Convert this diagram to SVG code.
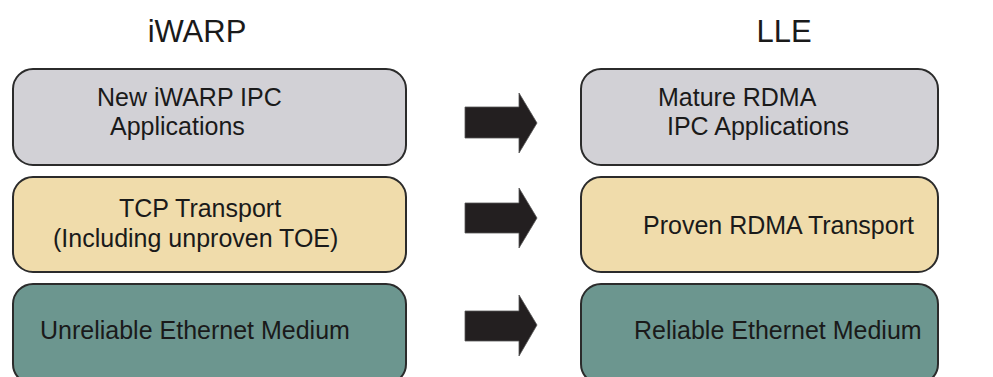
<svg xmlns="http://www.w3.org/2000/svg" width="993" height="377" viewBox="0 0 993 377">
<style>
text{font-family:"Liberation Sans",Arial,sans-serif;fill:#1a1a1a}
.t{font-size:25px}
.h{font-size:31px;text-anchor:middle}
.box{stroke:#2b2b2b;stroke-width:2}
.g{fill:#d2d1d6}
.y{fill:#f0dcab}
.c{fill:#6c968f}
.arr{fill:#231f20;stroke:#555;stroke-width:0.8}
</style>
<rect width="993" height="377" fill="#ffffff"/>
<g id="title-iwarp"><text class="h" x="197" y="42">iWARP</text></g>
<g id="title-lle"><text class="h" x="784" y="42">LLE</text></g>

<g id="iwarp-apps">
<rect class="box g" x="13" y="69" width="393" height="96" rx="20"/>
<text class="t" x="97" y="106">New iWARP IPC</text>
<text class="t" x="110" y="135">Applications</text>
</g>
<g id="iwarp-transport">
<rect class="box y" x="13" y="177" width="393" height="95" rx="20"/>
<text class="t" x="119" y="217">TCP Transport</text>
<text class="t" x="53" y="247">(Including unproven TOE)</text>
</g>
<g id="iwarp-medium">
<rect class="box c" x="13" y="284" width="393" height="100" rx="20"/>
<text class="t" x="40" y="339">Unreliable Ethernet Medium</text>
</g>

<g id="lle-apps">
<rect class="box g" x="581" y="69" width="357" height="96" rx="20"/>
<text class="t" x="658" y="106">Mature RDMA</text>
<text class="t" x="667" y="135">IPC Applications</text>
</g>
<g id="lle-transport">
<rect class="box y" x="581" y="177" width="357" height="95" rx="20"/>
<text class="t" x="643" y="234">Proven RDMA Transport</text>
</g>
<g id="lle-medium">
<rect class="box c" x="581" y="284" width="357" height="100" rx="20"/>
<text class="t" x="634" y="339">Reliable Ethernet Medium</text>
</g>

<g id="connectors">
<polygon class="arr" points="465,107 519,107 519,93 537,123 519,153 519,138 465,138"/>
<polygon class="arr" points="465,203 519,203 519,188 537,218 519,248 519,233 465,233"/>
<polygon class="arr" points="465,311 519,311 519,295 537,325 519,356 519,341 465,341"/>
</g>
</svg>
